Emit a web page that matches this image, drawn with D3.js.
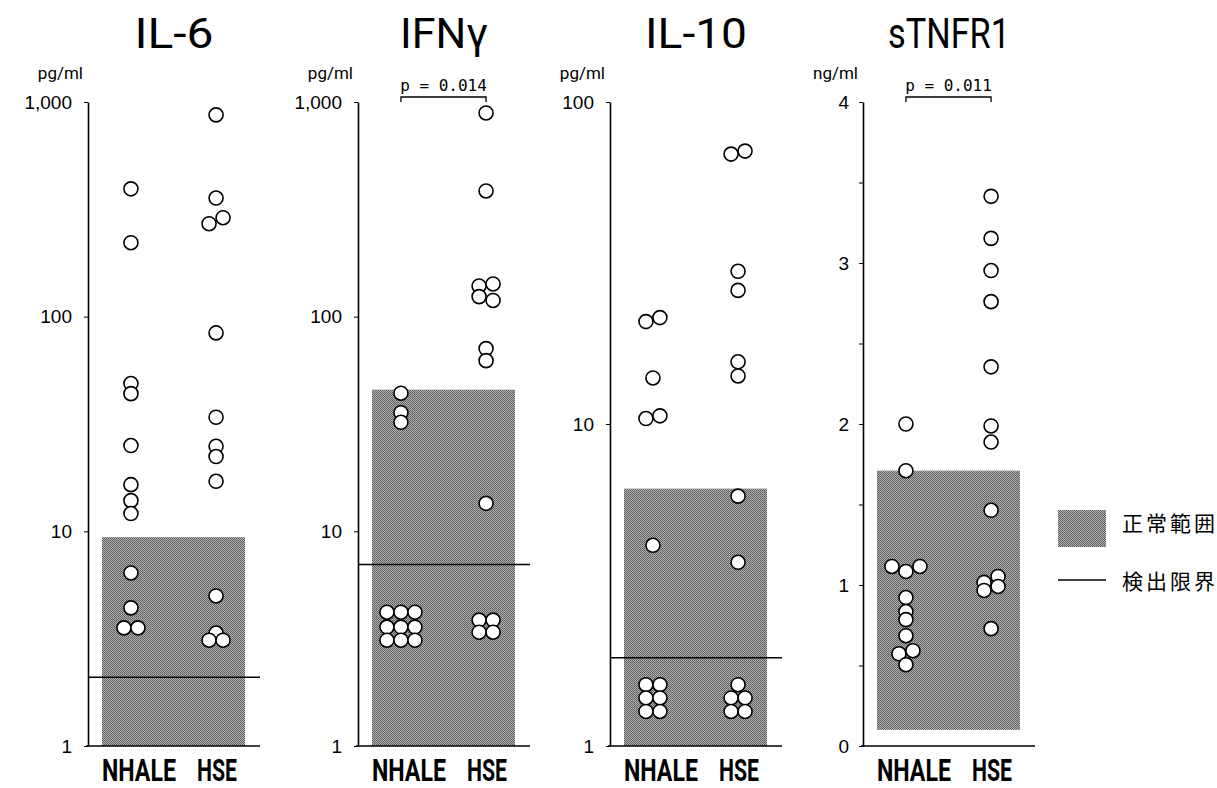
<!DOCTYPE html>
<html>
<head>
<meta charset="utf-8">
<script src="https://cdn.jsdelivr.net/npm/d3@7/dist/d3.min.js"></script>
<style>
  body { margin: 0; background: #fff; }
  text { fill: #000; }
</style>
</head>
<body>
<div id="chart"></div>
<script>
const groups = ["NHALE", "HSE"];

// each inner array is one row of points drawn side by side
const il6Nhale = [[394], [221], [48.8], [43.8], [25.1], [16.5], [13.9], [12.1], [6.4], [4.4], [3.55, 3.55]];
const il6Hse = [[871], [357], [271, 289], [84], [34], [24.9], [22.3], [17.1], [5.0], [3.36], [3.11, 3.11]];

const ifnNhale = [[44], [35.7], [32.2], [4.2, 4.2, 4.2], [3.58, 3.58, 3.58], [3.11, 3.11, 3.11]];
const ifnHse = [[889], [385], [139, 142], [124, 119], [71], [62.4], [13.5], [3.86, 3.86], [3.39, 3.39]];

const il10Nhale = [[20.8, 21.4], [13.9], [10.4, 10.6], [4.2], [1.55, 1.55], [1.41, 1.41], [1.28, 1.28]];
const il10Hse = [[68.9, 70.4], [29.8], [26], [15.6], [14.1], [5.97], [3.72], [1.55], [1.41, 1.41], [1.28, 1.28]];

const tnfNhale = [[2.0], [1.71], [1.115, 1.084, 1.115], [0.922], [0.835], [0.785], [0.685], [0.573, 0.592], [0.505]];
const tnfHse = [[3.414], [3.153], [2.953], [2.76], [2.355], [1.988], [1.888], [1.464], [1.016, 1.053], [0.966, 0.991], [0.729]];

// normal range [low, high], detection limit, p values
const normalRanges = [[1, 9.4], [1, 45.7], [1, 6.3], [0.1, 1.71]];
const detectLimits = [2.09, 7.0, 1.88, null];
const pValues = [null, "0.014", null, "0.011"];

const titles = ["IL-6", "IFNγ", "IL-10", "sTNFR1"];
const units = ["pg/ml", "pg/ml", "pg/ml", "ng/ml"];
const logTicks = [[1, 10, 100, 1000], [1, 10, 100, 1000], [1, 10, 100]];
const tnfTicks = [0, 0.5, 1, 1.5, 2, 2.5, 3, 3.5, 4];

const legendLabels = ["正常範囲", "検出限界"];

const width = 1217, height = 788;
const yTop = 102, yBottom = 746;
const axisXs = [88, 358, 610, 863];

const svg = d3.select("#chart").append("svg")
  .attr("width", width)
  .attr("height", height)
  .style("font-family", "Roboto, 'Liberation Sans', sans-serif");

// halftone-like gray for the normal range
const defs = svg.append("defs");
const pat = defs.append("pattern")
  .attr("id", "dots")
  .attr("width", 2).attr("height", 2)
  .attr("patternUnits", "userSpaceOnUse");
pat.append("rect").attr("width", 2).attr("height", 2).attr("fill", "#b0b0b0");
pat.append("rect").attr("width", 1).attr("height", 1).attr("fill", "#5a5a5a");
pat.append("rect").attr("x", 1).attr("y", 1).attr("width", 1).attr("height", 1).attr("fill", "#6a6a6a");
const shade = "url(#dots)";

const panels = [
  { scale: d3.scaleLog().domain([1, 1000]), ticks: logTicks[0], nhale: il6Nhale, hse: il6Hse },
  { scale: d3.scaleLog().domain([1, 1000]), ticks: logTicks[1], nhale: ifnNhale, hse: ifnHse },
  { scale: d3.scaleLog().domain([1, 100]), ticks: logTicks[2], nhale: il10Nhale, hse: il10Hse },
  { scale: d3.scaleLinear().domain([0, 4]), ticks: tnfTicks, nhale: tnfNhale, hse: tnfHse },
];

const titleWidths = [79, 88, 102, 122];

panels.forEach((p, i) => {
  const ax = axisXs[i];
  const y = p.scale.range([yBottom, yTop]);
  const x = d3.scalePoint().domain(groups).range([ax + 14, ax + 157]).padding(0.34);
  const g = svg.append("g");

  // title
  g.append("text")
    .attr("x", ax + 86)
    .attr("y", 48)
    .attr("text-anchor", "middle")
    .attr("font-size", 43)
    .attr("font-weight", 400)
    .attr("textLength", titleWidths[i])
    .attr("lengthAdjust", "spacingAndGlyphs")
    .text(titles[i]);

  // unit
  g.append("text")
    .attr("x", ax - 5)
    .attr("y", 79)
    .attr("text-anchor", "end")
    .attr("font-size", 17)
    .text(units[i]);

  // normal range
  const nr = normalRanges[i];
  g.append("rect")
    .attr("x", x.range()[0])
    .attr("width", x.range()[1] - x.range()[0])
    .attr("y", y(nr[1]))
    .attr("height", y(nr[0]) - y(nr[1]))
    .attr("fill", shade);

  // detection limit
  if (detectLimits[i] != null) {
    g.append("line")
      .attr("x1", ax).attr("x2", ax + 172)
      .attr("y1", y(detectLimits[i])).attr("y2", y(detectLimits[i]))
      .attr("stroke", "#000").attr("stroke-width", 1.5);
  }

  // y axis
  const isLog = i < 3;
  const axis = d3.axisLeft(y)
    .tickValues(p.ticks)
    .tickSize(4)
    .tickSizeOuter(0)
    .tickPadding(isLog ? 12 : 10)
    .tickFormat(d => (isLog ? d3.format(",")(d) : (Number.isInteger(d) ? d : "")));
  const ag = g.append("g").attr("transform", `translate(${ax},0)`).call(axis);
  ag.select(".domain").attr("stroke-width", 1.6);
  ag.selectAll("text").attr("font-size", 19).attr("fill", "#000");

  // bottom line
  g.append("line")
    .attr("x1", ax - 2).attr("x2", ax + 172)
    .attr("y1", yBottom).attr("y2", yBottom)
    .attr("stroke", "#000").attr("stroke-width", 1.6);

  // points
  const step = 14;
  groups.forEach(grp => {
    const rows = grp === "NHALE" ? p.nhale : p.hse;
    rows.forEach(row => {
      row.forEach((v, k) => {
        g.append("circle")
          .attr("cx", x(grp) + (k - (row.length - 1) / 2) * step)
          .attr("cy", y(v))
          .attr("r", 7)
          .attr("fill", "#fff")
          .attr("stroke", "#000")
          .attr("stroke-width", 1.6);
      });
    });

    // category label, tall and narrow
    const lx = grp === "NHALE" ? x(grp) + 8 : x(grp) + 1;
    g.append("text")
      .attr("transform", `translate(${lx},781) scale(1,1.35)`)
      .attr("text-anchor", "middle")
      .attr("font-size", 23)
      .attr("font-weight", "bold")
      .attr("textLength", grp === "NHALE" ? 74 : 40)
      .attr("lengthAdjust", "spacingAndGlyphs")
      .text(grp);
  });

  // p value bracket
  if (pValues[i]) {
    const x1 = x("NHALE"), x2 = x("HSE"), by = 97;
    g.append("path")
      .attr("d", `M${x1},${by + 5}V${by}H${x2}V${by + 5}`)
      .attr("fill", "none").attr("stroke", "#000").attr("stroke-width", 1.3);
    g.append("text")
      .attr("x", (x1 + x2) / 2)
      .attr("y", 91)
      .attr("text-anchor", "middle")
      .attr("font-family", "'DejaVu Sans Mono', 'Liberation Mono', monospace")
      .attr("font-size", 16)
      .attr("xml:space", "preserve")
      .text(`p = ${pValues[i]}`);
  }
});

// legend
const lg = svg.append("g").attr("transform", "translate(1058,0)");
lg.append("rect").attr("x", 0).attr("y", 510).attr("width", 48).attr("height", 37).attr("fill", shade);
lg.append("line").attr("x1", 0).attr("x2", 48).attr("y1", 580).attr("y2", 580)
  .attr("stroke", "#000").attr("stroke-width", 1.5);
lg.selectAll("text.leg")
  .data(legendLabels)
  .enter()
  .append("text")
  .attr("class", "leg")
  .attr("x", 64)
  .attr("y", (d, i) => (i === 0 ? 531 : 589))
  .attr("font-family", "'Noto Sans CJK JP', sans-serif")
  .attr("font-size", 21)
  .attr("letter-spacing", 3)
  .text(d => d);
</script>
</body>
</html>
